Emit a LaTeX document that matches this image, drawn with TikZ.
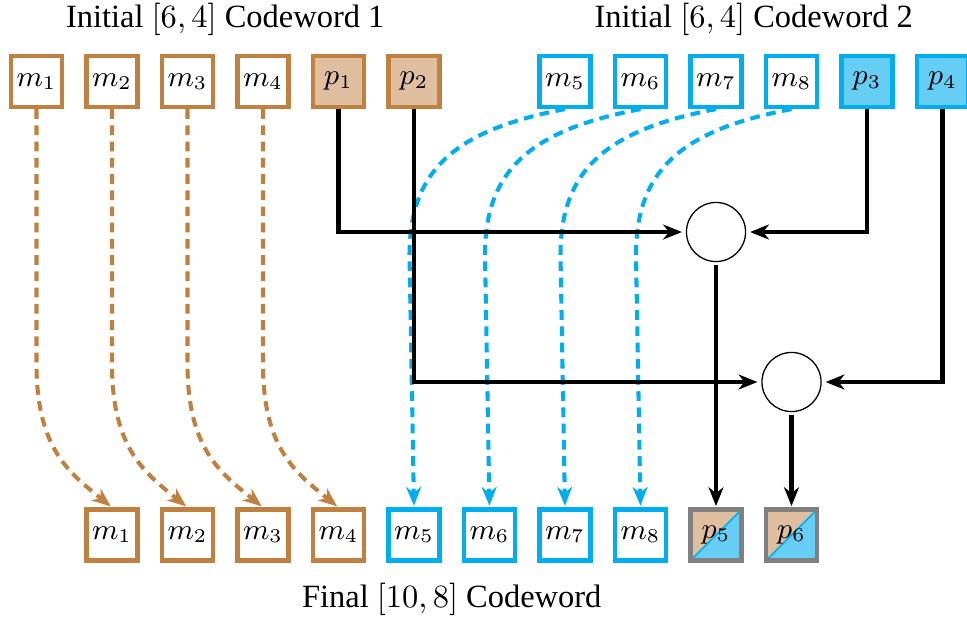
\documentclass[tikz,border=0pt]{standalone}
\usepackage[no-math]{fontspec}
\setmainfont{Liberation Serif}
\usetikzlibrary{arrows.meta}
\definecolor{cwbrown}{RGB}{191,128,64}
\definecolor{cwtan}{RGB}{223,191,159}
\definecolor{cwblue}{RGB}{0,174,239}
\definecolor{cwsky}{RGB}{102,206,245}
\begin{document}
\begin{tikzpicture}[x=0.308pt,y=-0.308pt,
  cell/.style={rectangle, minimum size=15.7pt, inner sep=0pt, line width=1.3pt,
    font=\small, fill=white},
  msgA/.style={cell, draw=cwbrown},
  parA/.style={cell, draw=cwbrown, fill=cwtan},
  msgB/.style={cell, draw=cwblue},
  parB/.style={cell, draw=cwblue, fill=cwsky},
  mixed/.style={cell, draw=gray, path picture={
    \fill[cwtan] (path picture bounding box.north west) -- (path picture bounding box.north east)
      -- (path picture bounding box.south west) -- cycle;
    \fill[cwsky] (path picture bounding box.south east) -- (path picture bounding box.north east)
      -- (path picture bounding box.south west) -- cycle;
    \draw[cwblue, line width=0.5pt] (path picture bounding box.south west)
      -- (path picture bounding box.north east);}},
  xorgate/.style={circle, draw, line width=0.4pt, minimum size=18.2pt, inner sep=0pt, outer sep=1pt},
  arrowhd/.style={-{Stealth[length=5.8pt,width=4.6pt,inset=1.8pt]}},
  link/.style={arrowhd, line width=1.25pt, black, shorten >=0.4pt},
  moveA/.style={arrowhd, line width=1.25pt, cwbrown, densely dashed, shorten >=0.5pt},
  moveB/.style={arrowhd, line width=1.25pt, cwblue, densely dashed, shorten >=0.5pt},
  caption/.style={anchor=base}
]
\useasboundingbox (0,0) rectangle (967,619);

% headings
\node[caption] (h1) at (225.25,27) {Initial $[6,4]$ Codeword 1};
\node[caption] (h2) at (753.75,27) {Initial $[6,4]$ Codeword 2};
\node[caption] (h3) at (451.75,607) {Final $[10,8]$ Codeword};

% first initial codeword
\node[msgA] (t1) at (36.5,81.5) {$m_1$};
\node[msgA] (t2) at (112,81.5) {$m_2$};
\node[msgA] (t3) at (187.5,81.5) {$m_3$};
\node[msgA] (t4) at (263,81.5) {$m_4$};
\node[parA] (tp1) at (338.5,81.5) {$p_1$};
\node[parA] (tp2) at (414,81.5) {$p_2$};

% second initial codeword
\node[msgB] (t5) at (565,81.5) {$m_5$};
\node[msgB] (t6) at (640.5,81.5) {$m_6$};
\node[msgB] (t7) at (716,81.5) {$m_7$};
\node[msgB] (t8) at (791.5,81.5) {$m_8$};
\node[parB] (tp3) at (867,81.5) {$p_3$};
\node[parB] (tp4) at (942.5,81.5) {$p_4$};

% final codeword
\node[msgA] (b1) at (112,535) {$m_1$};
\node[msgA] (b2) at (187.5,535) {$m_2$};
\node[msgA] (b3) at (263,535) {$m_3$};
\node[msgA] (b4) at (338.5,535) {$m_4$};
\node[msgB] (b5) at (414,535) {$m_5$};
\node[msgB] (b6) at (489.5,535) {$m_6$};
\node[msgB] (b7) at (565,535) {$m_7$};
\node[msgB] (b8) at (640.5,535) {$m_8$};
\node[mixed] (bp5) at (716,535) {$p_5$};
\node[mixed] (bp6) at (791.5,535) {$p_6$};

% parity combiners
\node[xorgate] (c1) at (716,232) {};
\node[xorgate] (c2) at (791.5,382) {};

% message symbols of codeword 1
\foreach \i in {1,...,4}{
  \draw[moveA] (t\i.south) -- ++(0,255) .. controls +(0,85) and +(-42,-34) .. (b\i.north);
}

% message symbols of codeword 2
\coordinate (k5) at (409.5,255);
\coordinate (k6) at (485,255);
\coordinate (k7) at (560.5,255);
\coordinate (k8) at (636,255);
\foreach \i in {5,...,8}{
  \draw[moveB] (t\i.south) .. controls +(-110,21) and +(0,-85) .. (k\i) -- (b\i.north);
}

% parity combination
\draw[link] (tp1.south) |- (c1.west);
\draw[link] (tp3.south) |- (c1.east);
\draw[link] (tp2.south) |- (c2.west);
\draw[link] (tp4.south) |- (c2.east);
\draw[link] (c1.south) -- (bp5.north);
\draw[link] (c2.south) -- (bp6.north);
\end{tikzpicture}
\end{document}
